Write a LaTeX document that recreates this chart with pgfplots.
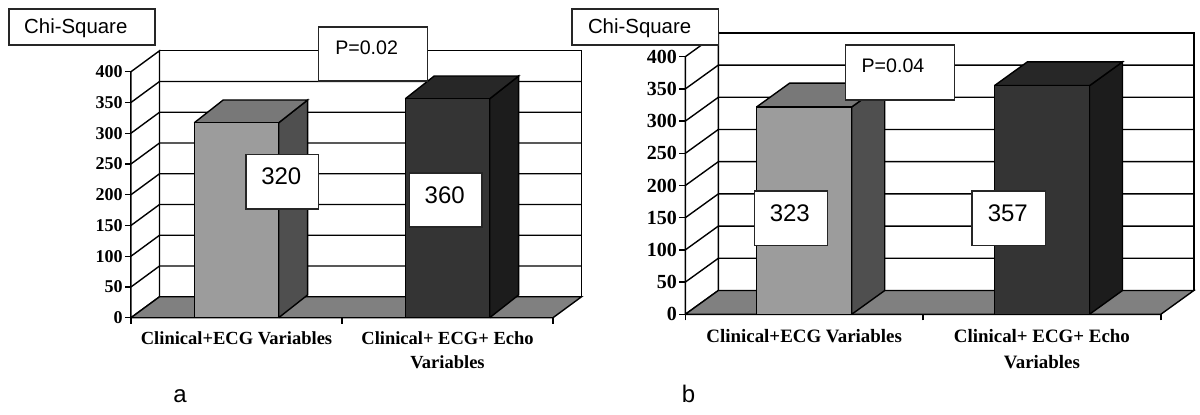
\documentclass[border=0pt]{standalone}
\usepackage{pgfplots}
\pgfplotsset{compat=1.18}
\usepackage{fontspec}
\setmainfont{Liberation Serif}
\newfontfamily\arial{Liberation Sans}
\definecolor{frontA}{HTML}{9C9C9C}
\definecolor{topA}{HTML}{787878}
\definecolor{sideA}{HTML}{4F4F4F}
\definecolor{frontB}{HTML}{343434}
\definecolor{topB}{HTML}{272727}
\definecolor{sideB}{HTML}{1C1C1C}
\definecolor{floorC}{HTML}{808080}
\pgfplotsset{panel/.style={
  scale only axis, anchor=south west, clip=false,
  xmin=0, xmax=2, ymin=0, ymax=400,
  axis x line=bottom, axis y line=left, axis line style={-, black, line width=.7pt},
  xtick={0,1,2}, xticklabels={},
  ytick={0,50,...,400},
  tick style={black, line width=.7pt},
  tick align=outside, major tick length=3pt,
  /pgf/number format/assume math mode=true,
  extra x ticks={0.5,1.5},
  extra x tick style={major tick length=0pt},
  extra x tick labels={Clinical+ECG Variables,{Clinical+ ECG+ Echo\\Variables}},
}, ln/.style={draw=black, line width=.7pt, no markers, solid}}
\newcommand{\pxbox}[8]{%
  \draw[draw=black!85, line width=.8pt, fill=white] (#1,#3) rectangle (#2,#4);
  \node[font=\arial\fontsize{#5pt}{#5pt}\selectfont, inner sep=0pt] at (#6,#7) {#8};}
\begin{document}
\begin{tikzpicture}
\fill[white] (0,0) rectangle (600pt,207pt);
% ---------- panel a
\begin{axis}[panel, at={(65.5pt,48.15pt)}, width=211pt, height=123pt,
  yticklabel style={font=\bfseries\fontsize{9pt}{9pt}\selectfont, inner sep=1pt},
  xticklabel style={font=\bfseries\fontsize{9.25pt}{12.2pt}\selectfont, align=center, anchor=north, yshift=-3.3pt},
]
\addplot[ln, fill=white] coordinates {(0.135,34) (2.135,34) (2.135,434) (0.135,434) (0.135,34)};
\addplot[ln, fill=white] coordinates {(0,0) (0.135,34) (0.135,434) (0,400) (0,0)};
\addplot[ln] coordinates {(0,50) (0.135,84) (2.135,84)

(0,100) (0.135,134) (2.135,134)

(0,150) (0.135,184) (2.135,184)

(0,200) (0.135,234) (2.135,234)

(0,250) (0.135,284) (2.135,284)

(0,300) (0.135,334) (2.135,334)

(0,350) (0.135,384) (2.135,384)};
\addplot[ln, fill=floorC] coordinates {(0,0) (2,0) (2.135,34) (0.135,34) (0,0)};
\addplot[ln, fill=sideA] coordinates {(0.7,0) (0.837,37) (0.837,354) (0.7,317) (0.7,0)};
\addplot[ln, fill=topA] coordinates {(0.3,317) (0.7,317) (0.837,354) (0.437,354) (0.3,317)};
\addplot[ln, ybar, bar width=0.4, fill=frontA] coordinates {(0.5,317)};
\addplot[ln, fill=sideB] coordinates {(1.7,0) (1.837,37) (1.837,393) (1.7,356) (1.7,0)};
\addplot[ln, fill=topB] coordinates {(1.3,356) (1.7,356) (1.837,393) (1.437,393) (1.3,356)};
\addplot[ln, ybar, bar width=0.4, fill=frontB] coordinates {(1.5,356)};
\end{axis}
% ---------- panel b
\begin{axis}[panel, at={(342.65pt,49.85pt)}, width=237.75pt, height=128.8pt,
  yticklabel style={font=\bfseries\fontsize{10pt}{10pt}\selectfont, inner sep=1pt},
  xticklabel style={font=\bfseries\fontsize{9.45pt}{12.8pt}\selectfont, align=center, anchor=north, yshift=-4pt},
]
\addplot[ln, fill=white] coordinates {(0.139,37) (2.139,37) (2.139,437) (0.139,437) (0.139,37)};
\addplot[ln, fill=white] coordinates {(0,0) (0.139,37) (0.139,437) (0,400) (0,0)};
\addplot[ln] coordinates {(0,50) (0.139,87) (2.139,87)

(0,100) (0.139,137) (2.139,137)

(0,150) (0.139,187) (2.139,187)

(0,200) (0.139,237) (2.139,237)

(0,250) (0.139,287) (2.139,287)

(0,300) (0.139,337) (2.139,337)

(0,350) (0.139,387) (2.139,387)};
\addplot[ln, fill=floorC] coordinates {(0,0) (2,0) (2.139,37) (0.139,37) (0,0)};
\addplot[ln, fill=sideA] coordinates {(0.7,0) (0.839,37) (0.839,359) (0.7,322) (0.7,0)};
\addplot[ln, fill=topA] coordinates {(0.3,322) (0.7,322) (0.839,359) (0.439,359) (0.3,322)};
\addplot[ln, ybar, bar width=0.4, fill=frontA] coordinates {(0.5,322)};
\addplot[ln, fill=sideB] coordinates {(1.7,0) (1.839,37) (1.839,392) (1.7,355) (1.7,0)};
\addplot[ln, fill=topB] coordinates {(1.3,355) (1.7,355) (1.839,392) (1.439,392) (1.3,355)};
\addplot[ln, ybar, bar width=0.4, fill=frontB] coordinates {(1.5,355)};
\end{axis}
% ---------- text boxes, in pixels of the reference
\begin{scope}[shift={(0pt,207pt)}, x=.5pt, y=-.5pt]
\pxbox{9.2}{155}{9}{45}{10.2}{75.8}{28.7}{Chi-Square}
\pxbox{318.4}{427.5}{27}{81}{9.8}{366.6}{47.3}{P=0.02}
\pxbox{245.7}{318.4}{154.3}{209}{12}{281.3}{176.7}{320}
\pxbox{409.5}{481.8}{172.7}{227}{12}{444.7}{195.3}{360}
\pxbox{572.2}{718.4}{9}{45}{10.2}{639.6}{28.7}{Chi-Square}
\pxbox{845.3}{954.3}{45}{99.7}{9.8}{893}{65.7}{P=0.04}
\pxbox{754.3}{827.3}{190.7}{245.3}{12}{789.8}{213.3}{323}
\pxbox{972.2}{1045.3}{190.7}{245.3}{12}{1007.8}{213.3}{357}
\node[font=\arial\fontsize{12pt}{12pt}\selectfont, inner sep=0pt] at (180,395.7) {a};
\node[font=\arial\fontsize{12pt}{12pt}\selectfont, inner sep=0pt] at (688.6,394) {b};
\end{scope}
\end{tikzpicture}
\end{document}
